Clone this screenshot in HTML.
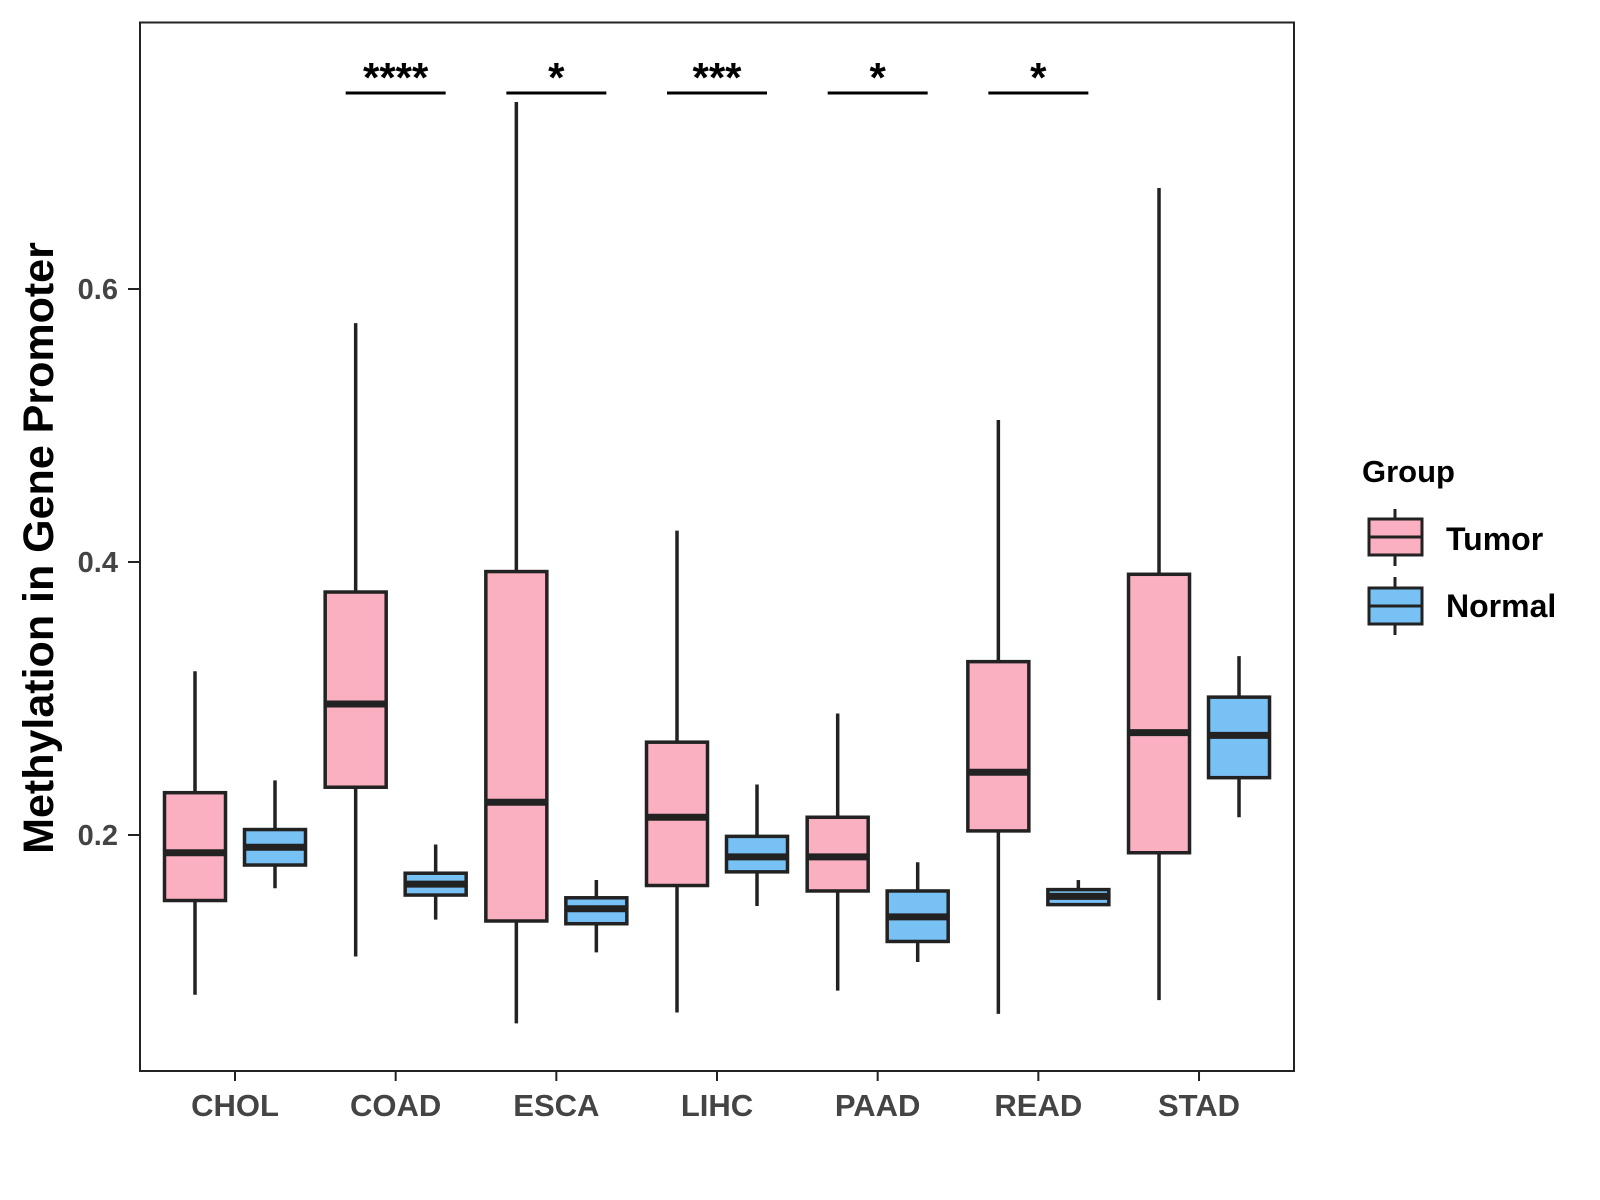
<!DOCTYPE html>
<html><head><meta charset="utf-8"><style>
body{margin:0;background:#fff}
svg{display:block;font-family:"Liberation Sans",Arial,sans-serif;font-weight:bold}
</style></head><body>
<svg id="chart" width="1600" height="1200" viewBox="0 0 1600 1200">
<rect x="140" y="22.5" width="1154" height="1048.5" fill="#fff" stroke="#222" stroke-width="2"/>
<g id="boxes"></g>
<g id="axes"></g>
<text x="39" y="548" transform="rotate(-90 39 548)" text-anchor="middle" dominant-baseline="central" font-size="43" fill="#000">Methylation in Gene Promoter</text>
<g>
<text x="1362" y="482" font-size="31" fill="#000">Group</text>
<g>
<line x1="1395" y1="509" x2="1395" y2="566" stroke="#222" stroke-width="3"/>
<rect x="1369" y="519" width="53" height="36" fill="#FBB0C2" stroke="#222" stroke-width="3"/>
<line x1="1369" y1="537" x2="1422" y2="537" stroke="#222" stroke-width="3"/>
<text x="1446" y="550" font-size="32" fill="#000">Tumor</text>
</g>
<g>
<line x1="1395" y1="577" x2="1395" y2="635" stroke="#222" stroke-width="3"/>
<rect x="1369" y="588" width="53" height="36" fill="#78C1F5" stroke="#222" stroke-width="3"/>
<line x1="1369" y1="606" x2="1422" y2="606" stroke="#222" stroke-width="3"/>
<text x="1446" y="617" font-size="32" fill="#000">Normal</text>
</g>
</g>
</svg>
<script>
const categories=["CHOL","COAD","ESCA","LIHC","PAAD","READ","STAD"];
// [low, q1, median, q3, high]
const tumorStats=[[0.083,0.152,0.187,0.231,0.320],[0.111,0.235,0.296,0.378,0.575],[0.062,0.137,0.224,0.393,0.737],[0.070,0.163,0.213,0.268,0.423],[0.086,0.159,0.184,0.213,0.289],[0.069,0.203,0.246,0.327,0.504],[0.079,0.187,0.275,0.391,0.674]];
const normalStats=[[0.161,0.178,0.191,0.204,0.240],[0.138,0.156,0.164,0.172,0.193],[0.114,0.135,0.146,0.154,0.167],[0.148,0.173,0.184,0.199,0.237],[0.107,0.122,0.140,0.159,0.180],[0.149,0.149,0.155,0.160,0.167],[0.213,0.242,0.273,0.301,0.331]];
const sigLabels=["","****","*","***","*","*",""];
const yTicks=[0.2,0.4,0.6];
const yTickLabels=["0.2","0.4","0.6"];
const NS="http://www.w3.org/2000/svg";
function y(v){return 835-(v-0.2)*1365;}
function x(i){return 235+i*160.67;}
function mk(t,a,p){const e=document.createElementNS(NS,t);for(const k in a)e.setAttribute(k,a[k]);p.appendChild(e);return e;}
const bg=document.getElementById('boxes'),ag=document.getElementById('axes');
function drawBox(s,cx,fill,name){
  const g=mk('g',{},bg);
  
  
  const w=61;
  mk('line',{x1:cx,x2:cx,y1:y(s[4]),y2:y(s[0]),stroke:'#222','stroke-width':3.5},g);
  mk('rect',{x:cx-w/2,y:y(s[3]),width:w,height:y(s[1])-y(s[3]),fill:fill,stroke:'#222','stroke-width':3.5},g);
  mk('line',{x1:cx-w/2,x2:cx+w/2,y1:y(s[2]),y2:y(s[2]),stroke:'#222','stroke-width':7},g);
}
categories.forEach((c,i)=>{
  drawBox(tumorStats[i],x(i)-40,'#FBB0C2','box-tumor-'+c.toLowerCase());
  drawBox(normalStats[i],x(i)+40,'#78C1F5','box-normal-'+c.toLowerCase());
  const t=mk('line',{x1:x(i),x2:x(i),y1:1071,y2:1081,stroke:'#222','stroke-width':2},ag);
  
  
  const l=mk('text',{x:x(i),y:1116,'text-anchor':'middle','font-size':31,fill:'#444'},ag);
  l.textContent=c;
  
  
  if(sigLabels[i]){
    const sg=mk('g',{},ag);
    
    
    mk('line',{x1:x(i)-50,x2:x(i)+50,y1:93,y2:93,stroke:'#000','stroke-width':3},sg);
    const st=mk('text',{x:x(i),y:92,'text-anchor':'middle','font-size':42,fill:'#000'},sg);
    st.textContent=sigLabels[i];
  }
});
yTicks.forEach((v,i)=>{
  const t=mk('line',{x1:128,x2:140,y1:y(v),y2:y(v),stroke:'#222','stroke-width':2},ag);
  
  
  const l=mk('text',{x:118,y:y(v)+10,'text-anchor':'end','font-size':29,fill:'#444'},ag);
  l.textContent=yTickLabels[i];
  
  
});
</script>
</body></html>
